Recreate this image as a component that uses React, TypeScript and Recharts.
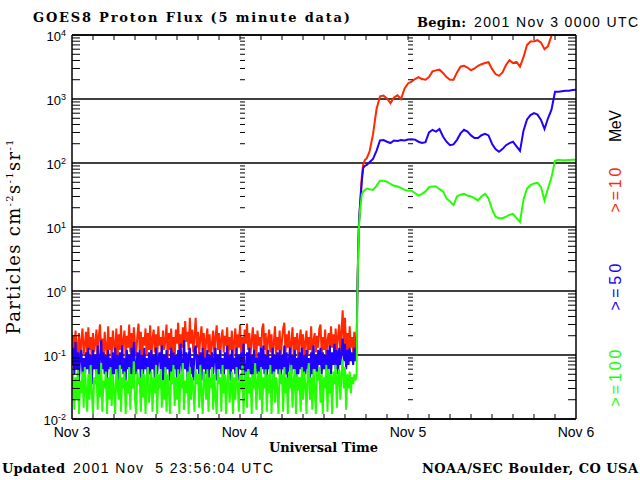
import React from 'react';
import { ComposedChart, Line, Scatter, XAxis, YAxis, CartesianGrid } from 'recharts';

// quiet period, one sample every 10 minutes from Nov 3 00:00 UT
const QUIET_STEP_H = 1 / 6;

const quietRed = [
  0.12, 0.2, 0.09, 0.24, 0.14, 0.1, 0.22, 0.08, 0.17, 0.26,
  0.1, 0.15, 0.23, 0.09, 0.27, 0.12, 0.19, 0.08, 0.22, 0.11,
  0.16, 0.25, 0.09, 0.2, 0.3, 0.11, 0.18, 0.08, 0.23, 0.13,
  0.1, 0.28, 0.12, 0.19, 0.09, 0.24, 0.15, 0.1, 0.26, 0.08,
  0.21, 0.12, 0.29, 0.1, 0.17, 0.24, 0.09, 0.2, 0.13, 0.3,
  0.11, 0.22, 0.09, 0.27, 0.15, 0.1, 0.2, 0.31, 0.12, 0.23,
  0.08, 0.19, 0.14, 0.26, 0.1, 0.22, 0.12, 0.29, 0.09, 0.18,
  0.25, 0.11, 0.21, 0.08, 0.28, 0.14, 0.19, 0.1, 0.24, 0.12,
  0.17, 0.3, 0.09, 0.22, 0.12, 0.26, 0.11, 0.19, 0.09, 0.25,
  0.15, 0.32, 0.11, 0.21, 0.13, 0.27, 0.1, 0.34, 0.16, 0.23,
  0.12, 0.38, 0.15, 0.25, 0.11, 0.2, 0.38, 0.13, 0.23, 0.1,
  0.19, 0.28, 0.12, 0.22, 0.09, 0.17, 0.26, 0.11, 0.21, 0.08,
  0.16, 0.24, 0.1, 0.19, 0.29, 0.12, 0.22, 0.09, 0.18, 0.25,
  0.11, 0.2, 0.14, 0.27, 0.09, 0.19, 0.12, 0.24, 0.08, 0.16,
  0.26, 0.1, 0.21, 0.13, 0.3, 0.11, 0.19, 0.09, 0.25, 0.15,
  0.31, 0.12, 0.22, 0.1, 0.17, 0.27, 0.11, 0.21, 0.09, 0.24,
  0.14, 0.19, 0.1, 0.26, 0.31, 0.12, 0.22, 0.09, 0.18, 0.25,
  0.11, 0.21, 0.08, 0.16, 0.28, 0.1, 0.19, 0.12, 0.24, 0.09,
  0.17, 0.26, 0.32, 0.11, 0.21, 0.13, 0.24, 0.08, 0.16, 0.27,
  0.1, 0.19, 0.12, 0.22, 0.07, 0.17, 0.25, 0.11, 0.21, 0.09,
  0.16, 0.24, 0.1, 0.19, 0.12, 0.28, 0.09, 0.17, 0.22, 0.11,
  0.2, 0.13, 0.26, 0.3, 0.1, 0.19, 0.12, 0.25, 0.09, 0.17,
  0.22, 0.11, 0.28, 0.13, 0.21, 0.1, 0.26, 0.12, 0.19, 0.3,
  0.11, 0.23, 0.5, 0.14, 0.38, 0.12, 0.22, 0.1, 0.28, 0.13,
  0.19, 0.11, 0.23, 0.12, 0.17,
];

const quietBlue = [
  0.07, 0.13, 0.05, 0.16, 0.06, 0.11, 0.04, 0.1, 0.12, 0.05,
  0.09, 0.04, 0.11, 0.06, 0.13, 0.05, 0.1, 0.035, 0.12, 0.06,
  0.1, 0.05, 0.14, 0.04, 0.09, 0.17, 0.06, 0.11, 0.05, 0.1,
  0.04, 0.12, 0.06, 0.09, 0.03, 0.11, 0.05, 0.13, 0.06, 0.1,
  0.04, 0.11, 0.06, 0.14, 0.05, 0.09, 0.04, 0.12, 0.06, 0.1,
  0.05, 0.13, 0.04, 0.16, 0.07, 0.05, 0.11, 0.06, 0.12, 0.04,
  0.1, 0.05, 0.13, 0.06, 0.09, 0.035, 0.11, 0.05, 0.12, 0.06,
  0.1, 0.04, 0.13, 0.05, 0.09, 0.11, 0.06, 0.14, 0.04, 0.1,
  0.05, 0.12, 0.06, 0.09, 0.04, 0.13, 0.05, 0.11, 0.06, 0.1,
  0.04, 0.12, 0.05, 0.15, 0.07, 0.05, 0.17, 0.06, 0.11, 0.04,
  0.1, 0.13, 0.05, 0.09, 0.04, 0.12, 0.14, 0.06, 0.1, 0.05,
  0.11, 0.04, 0.13, 0.06, 0.09, 0.05, 0.12, 0.035, 0.1, 0.06,
  0.11, 0.05, 0.09, 0.13, 0.04, 0.1, 0.06, 0.12, 0.05, 0.09,
  0.04, 0.11, 0.06, 0.14, 0.05, 0.1, 0.04, 0.12, 0.06, 0.09,
  0.05, 0.13, 0.04, 0.1, 0.06, 0.11, 0.05, 0.15, 0.07, 0.04,
  0.11, 0.06, 0.13, 0.05, 0.1, 0.04, 0.12, 0.06, 0.09, 0.05,
  0.11, 0.04, 0.13, 0.06, 0.14, 0.05, 0.1, 0.04, 0.12, 0.06,
  0.09, 0.05, 0.13, 0.04, 0.1, 0.06, 0.11, 0.05, 0.12, 0.04,
  0.1, 0.06, 0.14, 0.05, 0.11, 0.04, 0.09, 0.13, 0.05, 0.1,
  0.06, 0.12, 0.04, 0.09, 0.05, 0.11, 0.06, 0.13, 0.04, 0.1,
  0.05, 0.12, 0.06, 0.09, 0.04, 0.11, 0.05, 0.14, 0.06, 0.1,
  0.04, 0.12, 0.07, 0.13, 0.05, 0.11, 0.06, 0.1, 0.05, 0.12,
  0.06, 0.14, 0.05, 0.11, 0.07, 0.15, 0.06, 0.12, 0.05, 0.13,
  0.07, 0.11, 0.18, 0.08, 0.15, 0.06, 0.12, 0.07, 0.13, 0.08,
  0.11, 0.07, 0.13, 0.08, 0.12,
];

const quietGreen = [
  0.03, 0.05, 0.014, 0.045, 0.02, 0.06, 0.012, 0.04, 0.025, 0.055,
  0.015, 0.065, 0.03, 0.013, 0.05, 0.02, 0.07, 0.025, 0.012, 0.045,
  0.035, 0.06, 0.014, 0.05, 0.022, 0.075, 0.013, 0.04, 0.03, 0.055,
  0.012, 0.045, 0.02, 0.065, 0.016, 0.05, 0.028, 0.012, 0.06, 0.035,
  0.02, 0.07, 0.013, 0.045, 0.03, 0.055, 0.012, 0.04, 0.025, 0.065,
  0.014, 0.05, 0.03, 0.08, 0.02, 0.012, 0.055, 0.035, 0.045, 0.013,
  0.06, 0.022, 0.05, 0.012, 0.04, 0.065, 0.018, 0.03, 0.055, 0.013,
  0.045, 0.025, 0.07, 0.012, 0.05, 0.03, 0.06, 0.015, 0.04, 0.02,
  0.065, 0.013, 0.05, 0.028, 0.012, 0.055, 0.035, 0.07, 0.016, 0.045,
  0.02, 0.06, 0.012, 0.05, 0.03, 0.075, 0.014, 0.04, 0.025, 0.055,
  0.012, 0.065, 0.02, 0.045, 0.03, 0.013, 0.06, 0.035, 0.05, 0.015,
  0.07, 0.025, 0.012, 0.055, 0.04, 0.02, 0.06, 0.013, 0.045, 0.03,
  0.065, 0.014, 0.05, 0.022, 0.012, 0.06, 0.035, 0.045, 0.013, 0.07,
  0.025, 0.05, 0.012, 0.04, 0.06, 0.018, 0.03, 0.055, 0.012, 0.045,
  0.02, 0.065, 0.035, 0.013, 0.05, 0.028, 0.07, 0.012, 0.04, 0.055,
  0.015, 0.06, 0.025, 0.045, 0.012, 0.05, 0.03, 0.075, 0.014, 0.04,
  0.055, 0.02, 0.065, 0.012, 0.045, 0.03, 0.06, 0.013, 0.05, 0.025,
  0.07, 0.012, 0.04, 0.055, 0.018, 0.045, 0.03, 0.012, 0.06, 0.035,
  0.05, 0.013, 0.065, 0.025, 0.045, 0.012, 0.055, 0.03, 0.07, 0.015,
  0.04, 0.06, 0.012, 0.05, 0.028, 0.045, 0.013, 0.065, 0.02, 0.055,
  0.035, 0.012, 0.05, 0.075, 0.02, 0.045, 0.014, 0.06, 0.03, 0.012,
  0.055, 0.04, 0.065, 0.018, 0.05, 0.012, 0.045, 0.03, 0.07, 0.013,
  0.06, 0.025, 0.05, 0.012, 0.055, 0.035, 0.07, 0.015, 0.045, 0.06,
  0.02, 0.05, 0.085, 0.03, 0.065, 0.014, 0.05, 0.03, 0.055, 0.025,
  0.045, 0.035, 0.05, 0.04, 0.05,
];

// proton event, hours since Nov 3 00:00 UT
const eventHours = [
  40.75, 40.9, 41.0, 41.15, 41.4, 41.6, 41.85, 42.1, 42.5, 43.0, 43.5,
  44.0, 44.5, 45.0, 45.5, 46.0, 46.5, 47.0, 47.5, 48.0, 48.5,
  49.0, 49.5, 50.0, 50.5, 51.0, 51.5, 52.0, 52.5, 53.0, 53.5,
  54.0, 54.5, 55.0, 55.5, 56.0, 56.5, 57.0, 57.5, 58.0, 58.5,
  59.0, 59.5, 60.0, 60.5, 61.0, 61.5, 62.0, 62.5, 63.0, 63.5,
  64.0, 64.5, 65.0, 65.5, 66.0, 66.5, 67.0, 67.5, 68.0, 68.5,
  69.0, 69.5, 70.0, 70.5, 71.0, 71.5, 72.0,
];

const eventRed = [
  0.8, 5, 12, 22, 60, 95, 112, 118, 150, 280, 690,
  1100, 1130, 1020, 860, 1060, 1140, 1000, 1450, 1750, 1860,
  2050, 2200, 2050, 2000, 2200, 2700, 2800, 2870, 2550, 2200,
  2000, 2000, 2600, 3200, 3300, 3100, 2800, 3000, 3300, 3500,
  3650, 3750, 2950, 2450, 2300, 2600, 3400, 4050, 3650, 3800,
  3200, 4500, 7000, 7900, 8000, 8300, 7600, 6000, 6700, 9800,
  12000, 12500, 13000, 13000, 13500, 14000, 14000,
];

const eventBlue = [
  0.75, 5, 12, 22, 52, 84, 90, 93, 103, 116, 155,
  225, 228, 215, 205, 225, 220, 228, 225, 232, 235,
  232, 215, 205, 212, 300, 330, 310, 340, 260, 215,
  190, 195, 230, 290, 330, 310, 270, 245, 245, 272,
  285, 270, 200, 165, 150, 165, 190, 205, 215, 182,
  155, 320, 480, 560, 600, 570, 470, 340, 500, 680,
  1300, 1300, 1320, 1340, 1350, 1380, 1400,
];

const eventGreen = [
  0.7, 4.5, 10, 18, 32, 36, 38, 40, 39, 38, 44,
  53, 53, 51, 47, 44, 43, 41, 38, 37, 37,
  34, 31, 33, 36, 42, 43, 43, 39, 36, 28,
  25, 22, 30, 32, 33, 31, 30, 28, 26, 30,
  33, 28, 19, 14.5, 13.7, 13.7, 14.5, 15.5, 16, 13.8,
  12, 27, 40, 45, 48, 49, 42, 26, 40, 60,
  108, 112, 110, 110, 111, 112, 112,
];

const dayTicks = [0, 24, 48, 72];
const dayLabels = ['Nov 3', 'Nov 4', 'Nov 5', 'Nov 6'];
const decades = [0.01, 0.1, 1, 10, 100, 1000, 10000];
const minorHourTicks = [3, 6, 9, 12, 15, 18, 21, 24, 27, 30, 33, 36, 39, 42, 45, 48, 51, 54, 57, 60, 63, 66, 69];
const minorFluxTicks = decades.slice(0, -1).flatMap(d => [2, 3, 4, 5, 6, 7, 8, 9].map(m => m * d));

const RED = '#ff2800';
const BLUE = '#2000ff';
const GREEN = '#22ff00';
const SERIF = "'DejaVu Serif', serif";
const SANS = "'Liberation Sans', Arial, sans-serif";

const buildSeries = (quiet: number[], event: number[]) => [
  ...quiet.map((v, i) => ({ t: i * QUIET_STEP_H, v })),
  ...event.map((v, j) => ({ t: eventHours[j], v })),
];

const redData = buildSeries(quietRed, eventRed);
const blueData = buildSeries(quietBlue, eventBlue);
const greenData = buildSeries(quietGreen, eventGreen);

// log minor ticks drawn at the Nov 4 and Nov 5 boundaries
const dayColumnMarks = [24, 48].flatMap(t => minorFluxTicks.map(v => ({ t, v })));

const DecadeTick = (props: any) => {
  const { x, y, payload } = props;
  const e = Math.round(Math.log10(payload.value));
  return (
    <text x={x} y={y + 6} textAnchor="end" fontFamily={SANS} fontSize={13} fill="#000">
      10<tspan dy={-5} fontSize={9}>{e < 0 ? '-' + -e : String(e)}</tspan>
    </text>
  );
};

const DayTick = (props: any) => {
  const { x, y, payload } = props;
  return (
    <text x={x} y={y + 10} textAnchor="middle" fontFamily={SANS} fontSize={14} fill="#000">
      {dayLabels[dayTicks.indexOf(payload.value)]}
    </text>
  );
};

const EmptyTick = () => <g />;

const ColumnTick = (props: any) => {
  const { cx, cy } = props;
  return <line x1={cx} x2={cx + 5} y1={cy} y2={cy} stroke="#000" strokeWidth={1} />;
};

const frame = { stroke: '#000', strokeWidth: 1.5 };
const tickStroke = { stroke: '#000', strokeWidth: 1 };
const logAxis = {
  type: 'number' as const,
  scale: 'log' as const,
  domain: [0.01, 10000],
  allowDataOverflow: true,
  interval: 0 as const,
};
const timeAxis = {
  type: 'number' as const,
  dataKey: 't',
  domain: [0, 72],
  allowDataOverflow: true,
  interval: 0 as const,
};

const App: React.FC = () => {
  return (
    <div style={{ position: 'absolute', left: 0, top: 0, width: 640, height: 480, background: '#fff' }}>
      <ComposedChart width={640} height={480} margin={{ top: 35, right: 64, bottom: 60, left: 71 }}>
        <CartesianGrid xAxisId="x" yAxisId="y" vertical={false} stroke="#000" strokeWidth={1.5} />
        <XAxis
          xAxisId="x"
          {...timeAxis}
          ticks={dayTicks}
          height={1}
          axisLine={frame}
          tickLine={false}
          tickSize={0}
          tickMargin={8}
          tick={<DayTick />}
        />
        <XAxis xAxisId="xb" {...timeAxis} mirror ticks={minorHourTicks} height={6} axisLine={false} tickLine={tickStroke} tickSize={5} tick={<EmptyTick />} />
        <XAxis xAxisId="xt" {...timeAxis} orientation="top" mirror ticks={minorHourTicks} height={6} axisLine={frame} tickLine={tickStroke} tickSize={5} tick={<EmptyTick />} />
        <YAxis
          yAxisId="y"
          {...logAxis}
          ticks={decades}
          width={1}
          axisLine={frame}
          tickLine={false}
          tickSize={0}
          tickMargin={6}
          tick={<DecadeTick />}
        />
        <YAxis yAxisId="yl" {...logAxis} mirror ticks={minorFluxTicks} width={8} axisLine={false} tickLine={tickStroke} tickSize={8} tick={<EmptyTick />} />
        <YAxis yAxisId="yr" {...logAxis} orientation="right" mirror ticks={minorFluxTicks} width={8} axisLine={frame} tickLine={tickStroke} tickSize={8} tick={<EmptyTick />} />

        <Line xAxisId="x" yAxisId="y" data={redData} dataKey="v" type="linear" stroke={RED} strokeWidth={2} dot={false} isAnimationActive={false} />
        <Line xAxisId="x" yAxisId="y" data={blueData} dataKey="v" type="linear" stroke={BLUE} strokeWidth={2} dot={false} isAnimationActive={false} />
        <Line xAxisId="x" yAxisId="y" data={greenData} dataKey="v" type="linear" stroke={GREEN} strokeWidth={2} dot={false} isAnimationActive={false} />
        <Scatter xAxisId="x" yAxisId="y" data={dayColumnMarks} dataKey="v" shape={<ColumnTick />} isAnimationActive={false} />
      </ComposedChart>

      <svg width={640} height={480} style={{ position: 'absolute', left: 0, top: 0, pointerEvents: 'none' }}>
        <text x={33} y={22} fontFamily={SERIF} fontWeight="bold" fontSize={13} textLength={317} lengthAdjust="spacing">
          GOES8 Proton Flux (5 minute data)
        </text>
        <text x={417} y={27} fontFamily={SERIF} fontWeight="bold" fontSize={13} textLength={49} lengthAdjust="spacing">
          Begin:
        </text>
        <text x={474} y={27} fontFamily={SANS} fontSize={14} textLength={164} lengthAdjust="spacing">
          2001 Nov 3 0000 UTC
        </text>

        <text transform="rotate(-90 19.5 237)" x={19.5} y={237} textAnchor="middle" fontFamily={SERIF} fontSize={18} textLength={195} lengthAdjust="spacing">
          Particles cm<tspan dy={-7} fontSize={10}>-2</tspan>
          <tspan dy={7}>s</tspan>
          <tspan dy={-7} fontSize={10}>-1</tspan>
          <tspan dy={7}>sr</tspan>
          <tspan dy={-7} fontSize={10}>-1</tspan>
        </text>

        <text transform="rotate(-90 621 126)" x={621} y={126} textAnchor="middle" fontFamily={SANS} fontSize={16} fill="#000" textLength={32}>
          MeV
        </text>
        <text transform="rotate(-90 621 190)" x={621} y={190} textAnchor="middle" fontFamily={SANS} fontSize={16} fill={RED} textLength={45}>
          {'>=10'}
        </text>
        <text transform="rotate(-90 621 287)" x={621} y={287} textAnchor="middle" fontFamily={SANS} fontSize={16} fill={BLUE} textLength={47}>
          {'>=50'}
        </text>
        <text transform="rotate(-90 621 378)" x={621} y={378} textAnchor="middle" fontFamily={SANS} fontSize={16} fill={GREEN} textLength={57}>
          {'>=100'}
        </text>

        <text x={323.5} y={452} textAnchor="middle" fontFamily={SERIF} fontWeight="bold" fontSize={13} textLength={109} lengthAdjust="spacing">
          Universal Time
        </text>

        <text x={2} y={473} fontFamily={SERIF} fontWeight="bold" fontSize={13} textLength={63} lengthAdjust="spacing">
          Updated
        </text>
        <text x={73} y={473} fontFamily={SANS} fontSize={14} textLength={200} lengthAdjust="spacing" style={{ whiteSpace: 'pre' }}>
          {'2001 Nov  5 23:56:04 UTC'}
        </text>
        <text x={422} y={473} fontFamily={SERIF} fontWeight="bold" fontSize={13} textLength={216} lengthAdjust="spacing">
          NOAA/SEC Boulder, CO USA
        </text>
      </svg>
    </div>
  );
};

export default App;
